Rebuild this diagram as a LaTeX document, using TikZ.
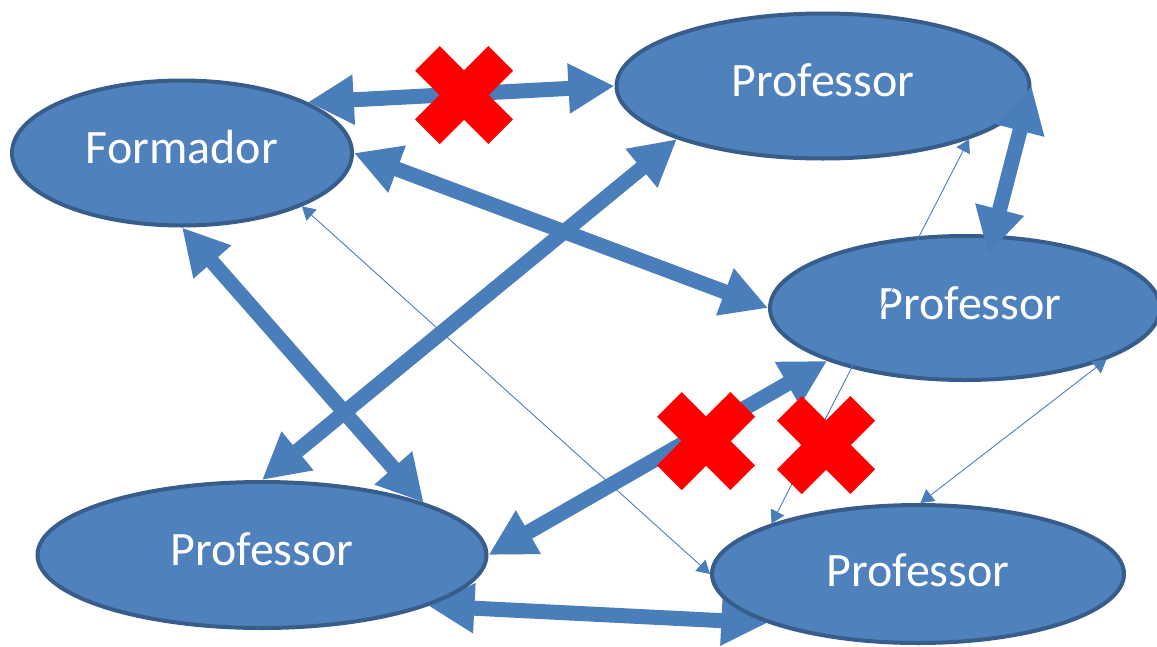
\documentclass[tikz,border=0pt]{standalone}
\usepackage{fontspec}
\setmainfont{Carlito}
\usetikzlibrary{arrows.meta,shapes.geometric}
\definecolor{nodefill}{HTML}{4F81BD}
\definecolor{nodeedge}{HTML}{385D8A}
\definecolor{linkblue}{HTML}{4A7EBB}
\pgfdeclarelayer{back}
\pgfsetlayers{back,main}
\newcommand\lifted[1]{\raisebox{12pt}{#1}}
\begin{document}
\begin{tikzpicture}[x=1pt,y=-1pt,
  person/.style={ellipse, draw=nodeedge, fill=nodefill, line width=4pt,
    inner sep=0pt, text=white, font=\fontsize{48}{48}\selectfont},
  strong/.style={draw=linkblue, line width=15pt,
    {Triangle[length=46pt,width=47pt]}-{Triangle[length=46pt,width=47pt]}},
  weak/.style={draw=linkblue, line width=0.9pt,
    {Triangle[length=13pt,width=15pt]}-{Triangle[length=13pt,width=15pt]}},
  nocross/.pic={\fill[red, rotate=45]
    (17.5,51.8) -- (17.5,17.5) -- (51.8,17.5) -- (51.8,-17.5) -- (17.5,-17.5)
    -- (17.5,-51.8) -- (-17.5,-51.8) -- (-17.5,-17.5) -- (-51.8,-17.5)
    -- (-51.8,17.5) -- (-17.5,17.5) -- (-17.5,51.8) -- cycle;}
]
\clip (0,0) rectangle (1157,646);

% people
\node[person, minimum width=340pt, minimum height=145pt] (form) at (182,153) {\lifted{Formador}};
\node[person, minimum width=413pt, minimum height=145pt] (pa) at (823,86) {\lifted{Professor}};
\node[person, minimum width=390pt, minimum height=144pt] (pb) at (965,308) {\raisebox{10pt}{\hspace{10pt}Professor}};
\node[person, minimum width=449pt, minimum height=146pt] (pc) at (262,555) {\lifted{Professor}};
\node[person, minimum width=412pt, minimum height=138pt] (pd) at (918,574) {\raisebox{8pt}{Professor}};

% link passing beneath the lower ellipses
\begin{pgfonlayer}{back}
  \draw[strong] (pc.-17) -- (pd.198);
\end{pgfonlayer}

% strong links
\draw[strong] (form.22) -- (pa.180);
\draw[strong] (form.0) -- (pb.180);
\draw[strong] (form.270) -- (pc.18);
\draw[strong] (pa.200) -- (pc.90);
\draw[strong, shorten >=-20pt] (pa.0) -- (pb.69);
\draw[strong] (pb.201) -- (pc.0);

% weak links
\draw[weak] (form.-24) -- (pd.180);
\draw[weak] (pa.-20) -- (pd.161);
\draw[weak] (pb.-20) -- (pd.88);

% broken links
\pic at (464,95) {nocross};
\pic at (706,441) {nocross};
\pic at (826,445) {nocross};
\end{tikzpicture}
\end{document}
